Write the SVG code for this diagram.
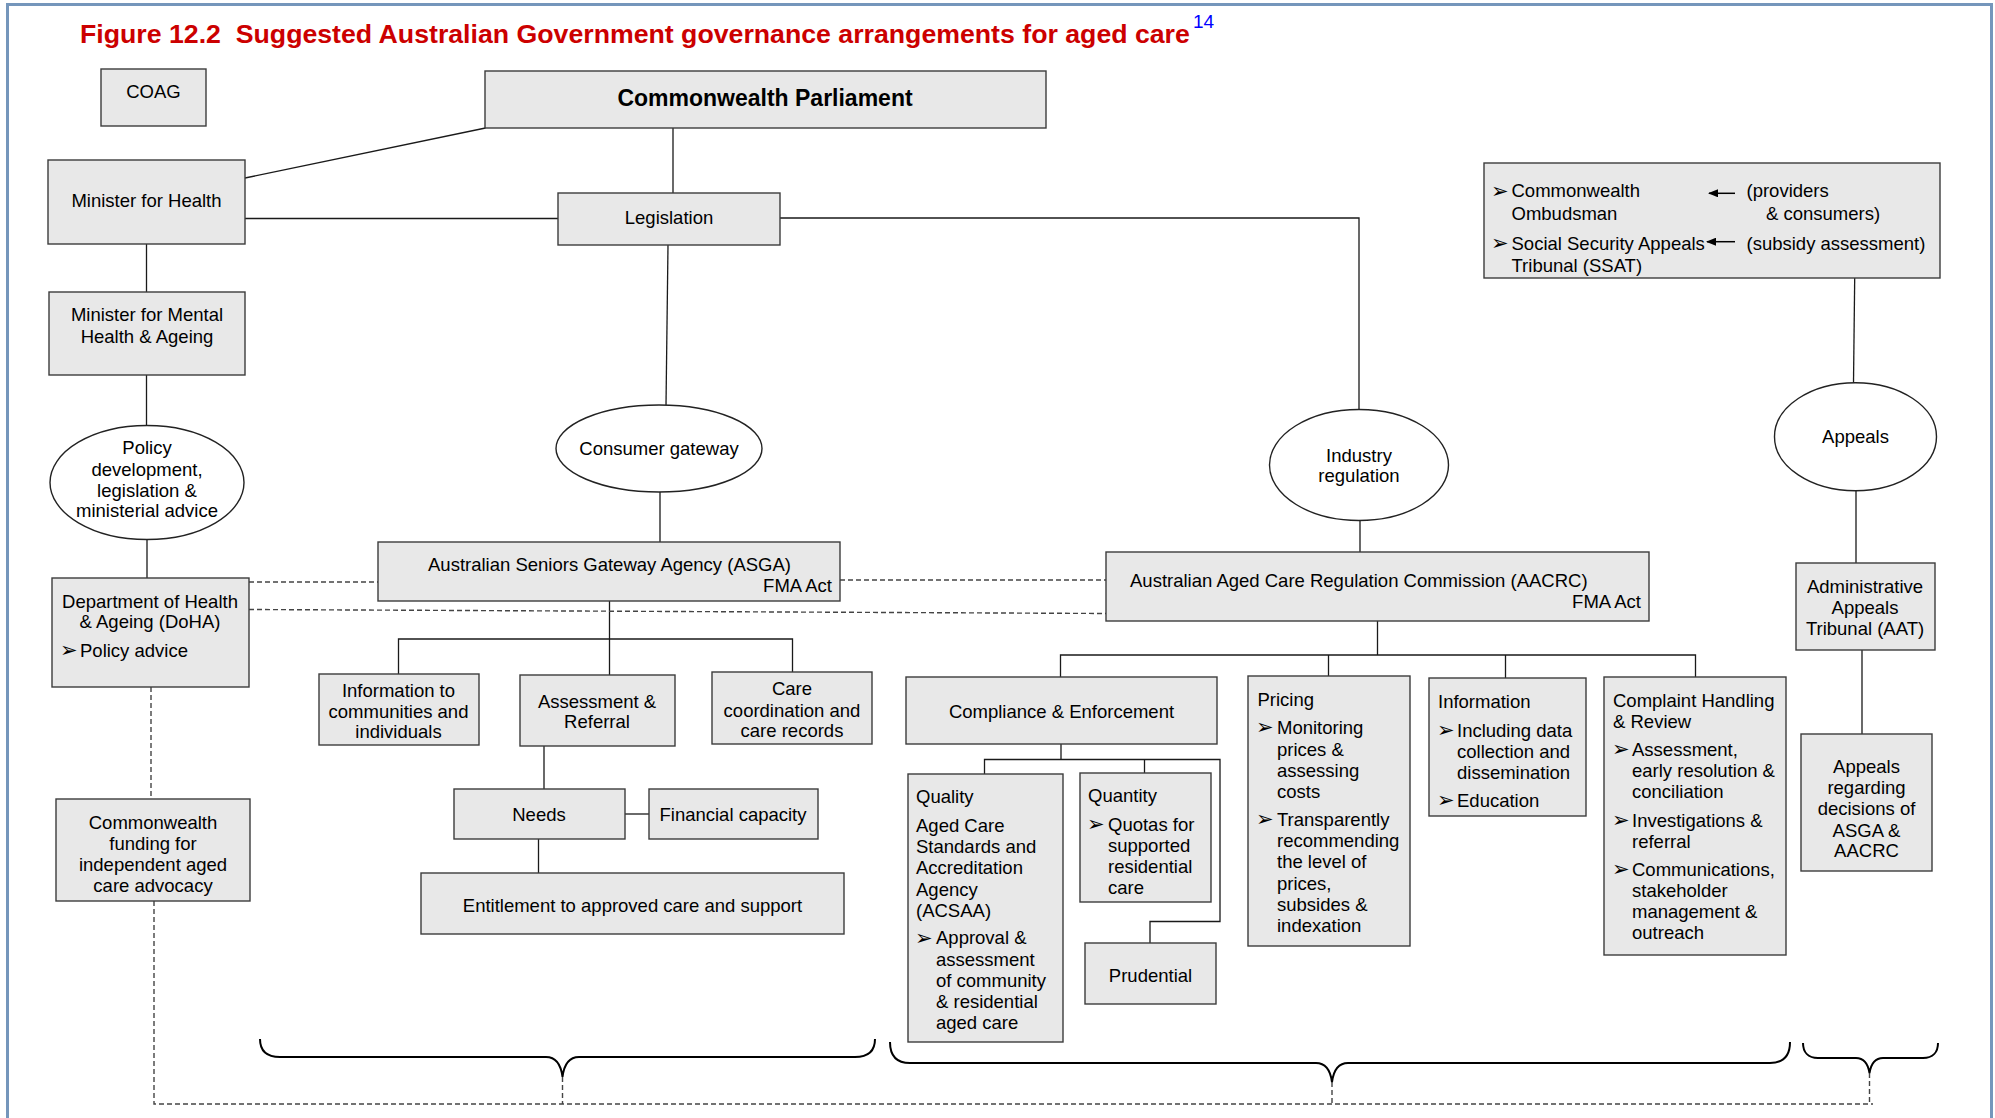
<svg xmlns="http://www.w3.org/2000/svg" width="1995" height="1118" viewBox="0 0 1995 1118">
<defs>
<style>
.bx{fill:#e8e8e8;stroke:#3c3c3c;stroke-width:1.4}
.el{fill:#ffffff;stroke:#222;stroke-width:1.4}
.t{font-family:"Liberation Sans",Arial,sans-serif;font-size:18.5px;fill:#000}
.c{text-anchor:middle}
.e{text-anchor:end}
.b{font-family:"DejaVu Sans","Liberation Sans",sans-serif;font-size:21px;fill:#000}
.ln{fill:none;stroke:#1a1a1a;stroke-width:1.3}
.ds{fill:none;stroke:#444;stroke-width:1.4;stroke-dasharray:5,3}
.br{fill:none;stroke:#000;stroke-width:2}
</style>
<marker id="ah" viewBox="0 0 10 8" refX="9" refY="4" markerWidth="10" markerHeight="8" markerUnits="userSpaceOnUse" orient="auto">
<path d="M0,0 L10,4 L0,8 Z" fill="#000"/>
</marker>
</defs>
<rect width="1995" height="1118" fill="#ffffff"/>
<rect x="7.5" y="4.5" width="1984" height="1140" fill="none" stroke="#7596bb" stroke-width="3"/>

<g id="title">
<text x="80" y="43" font-family="Liberation Sans,Arial,sans-serif" font-weight="bold" font-size="26.7" fill="#cc0000" xml:space="preserve">Figure 12.2  Suggested Australian Government governance arrangements for aged care</text>
<text x="1193" y="28" font-family="Liberation Sans,Arial,sans-serif" font-size="19" fill="#0000ff">14</text>
</g>

<g id="connectors">
<path class="ln" d="M485.5,128 L245,178"/>
<path class="ln" d="M673,128 V193"/>
<path class="ln" d="M245,218.5 H558"/>
<path class="ln" d="M780,218 H1359 V409.5"/>
<path class="ln" d="M668,245 L666,405"/>
<path class="ln" d="M146.5,244 V292"/>
<path class="ln" d="M146.5,375 V425.5"/>
<path class="ln" d="M147,539.5 V578"/>
<path class="ln" d="M660,492 V542"/>
<path class="ln" d="M609.5,601 V675"/>
<path class="ln" d="M398.5,674 V639 H792.5 V672"/>
<path class="ln" d="M544,746 V789"/>
<path class="ln" d="M625,814 H649"/>
<path class="ln" d="M538.5,839 V873"/>
<path class="ln" d="M1360,520.5 V552"/>
<path class="ln" d="M1377.5,621 V655"/>
<path class="ln" d="M1060.5,677 V655 H1695.5 V677"/>
<path class="ln" d="M1328.5,655 V676"/>
<path class="ln" d="M1505.5,655 V678"/>
<path class="ln" d="M1061,744 V759.5"/>
<path class="ln" d="M984.5,774 V759.5 H1220 V921.5 H1150 V943"/>
<path class="ln" d="M1144.5,759.5 V773"/>
<path class="ln" d="M1854.7,278 L1853.5,382.7"/>
<path class="ln" d="M1856,490.7 V563"/>
<path class="ln" d="M1862,650 V734"/>
<path class="ds" d="M249,582 H378"/>
<path class="ds" d="M840,580 H1106"/>
<path class="ds" d="M249,609.5 L1106,613.5"/>
<path class="ds" d="M151,687 V799"/>
<path class="ds" d="M154,901 V1104 H1873"/>
<path class="ds" d="M562.5,1077 V1104"/>
<path class="ds" d="M1332,1082 V1104"/>
<path class="ds" d="M1869.5,1073 V1104"/>
<path class="br" d="M260,1039 C260,1051 266,1057 280,1057 L546,1057 C556,1057 561,1065 562.5,1077 C564,1065 569,1057 579,1057 L855,1057 C869,1057 875,1051 875,1039"/>
<path class="br" d="M890,1042 C890,1056 896,1063 910,1063 L1316,1063 C1326,1063 1330.5,1071 1332,1082 C1333.5,1071 1338,1063 1348,1063 L1770,1063 C1784,1063 1790,1056 1790,1042"/>
<path class="br" d="M1803,1043 C1803,1052 1808,1058 1818,1058 L1856,1058 C1864,1058 1868,1064 1869.5,1073 C1871,1064 1875,1058 1883,1058 L1923,1058 C1933,1058 1938,1052 1938,1043"/>
</g>

<g id="coag">
<rect class="bx" x="101" y="69" width="105" height="57"/>
<text class="t c" x="153.5" y="98">COAG</text>
</g>
<g id="parliament">
<rect class="bx" x="485" y="71" width="561" height="57"/>
<text x="765" y="106" font-family="Liberation Sans,Arial,sans-serif" font-weight="bold" font-size="23" text-anchor="middle">Commonwealth Parliament</text>
</g>
<g id="minister-health">
<rect class="bx" x="48" y="160" width="197" height="84"/>
<text class="t c" x="146.5" y="207">Minister for Health</text>
</g>
<g id="legislation">
<rect class="bx" x="558" y="193" width="222" height="52"/>
<text class="t c" x="669" y="224">Legislation</text>
</g>
<g id="minister-mental">
<rect class="bx" x="49" y="292" width="196" height="83"/>
<text class="t c" x="147" y="320.5">Minister for Mental</text>
<text class="t c" x="147" y="342.5">Health &amp; Ageing</text>
</g>
<g id="policy">
<ellipse class="el" cx="147" cy="482.5" rx="97" ry="57"/>
<text class="t c" x="147" y="454">Policy</text>
<text class="t c" x="147" y="475.5">development,</text>
<text class="t c" x="147" y="496.5">legislation &amp;</text>
<text class="t c" x="147" y="517">ministerial advice</text>
</g>
<g id="doha">
<rect class="bx" x="52" y="578" width="197" height="109"/>
<text class="t c" x="150" y="607.5">Department of Health</text>
<text class="t c" x="150" y="628">&amp; Ageing (DoHA)</text>
<text class="b" x="60" y="657">➢</text>
<text class="t" x="80" y="656.5">Policy advice</text>
</g>
<g id="consumer-gateway">
<ellipse class="el" cx="659" cy="448.5" rx="103" ry="43.5"/>
<text class="t c" x="659" y="454.5">Consumer gateway</text>
</g>
<g id="asga">
<rect class="bx" x="378" y="542" width="462" height="59"/>
<text class="t c" x="609.5" y="570.5">Australian Seniors Gateway Agency (ASGA)</text>
<text class="t e" x="832" y="592">FMA Act</text>
</g>
<g id="info-communities">
<rect class="bx" x="319" y="674" width="160" height="71"/>
<text class="t c" x="398.5" y="696.5">Information to</text>
<text class="t c" x="398.5" y="717.5">communities and</text>
<text class="t c" x="398.5" y="738">individuals</text>
</g>
<g id="assessment">
<rect class="bx" x="520" y="675" width="155" height="71"/>
<text class="t c" x="597" y="707.5">Assessment &amp;</text>
<text class="t c" x="597" y="728">Referral</text>
</g>
<g id="care-coordination">
<rect class="bx" x="712" y="672" width="160" height="72"/>
<text class="t c" x="792" y="694.5">Care</text>
<text class="t c" x="792" y="716.5">coordination and</text>
<text class="t c" x="792" y="737">care records</text>
</g>
<g id="needs">
<rect class="bx" x="454" y="789" width="171" height="50"/>
<text class="t c" x="539" y="820.5">Needs</text>
</g>
<g id="financial">
<rect class="bx" x="649" y="789" width="169" height="50"/>
<text class="t c" x="733" y="820.5">Financial capacity</text>
</g>
<g id="entitlement">
<rect class="bx" x="421" y="873" width="423" height="61"/>
<text class="t c" x="632.5" y="911.5">Entitlement to approved care and support</text>
</g>
<g id="funding">
<rect class="bx" x="56" y="799" width="194" height="102"/>
<text class="t c" x="153" y="828.5">Commonwealth</text>
<text class="t c" x="153" y="849.5">funding for</text>
<text class="t c" x="153" y="870.5">independent aged</text>
<text class="t c" x="153" y="891.5">care advocacy</text>
</g>
<g id="ombudsman">
<rect class="bx" x="1484" y="163" width="456" height="115"/>
<text class="b" x="1491" y="197.5">➢</text>
<text class="t" x="1511.5" y="197">Commonwealth</text>
<text class="t" x="1511.5" y="219.5">Ombudsman</text>
<text class="b" x="1491" y="250">➢</text>
<text class="t" x="1511.5" y="249.5">Social Security Appeals</text>
<text class="t" x="1511.5" y="272">Tribunal (SSAT)</text>
<path d="M1735,193.3 H1709" stroke="#000" stroke-width="1.5" marker-end="url(#ah)"/>
<path d="M1735,241.7 H1707" stroke="#000" stroke-width="1.5" marker-end="url(#ah)"/>
<text class="t" x="1746.5" y="197">(providers</text>
<text class="t" x="1766" y="219.5">&amp; consumers)</text>
<text class="t" x="1746.5" y="249.5">(subsidy assessment)</text>
</g>
<g id="appeals">
<ellipse class="el" cx="1855.5" cy="436.7" rx="81" ry="54"/>
<text class="t c" x="1855.5" y="442.5">Appeals</text>
</g>
<g id="aat">
<rect class="bx" x="1796" y="563" width="139" height="87"/>
<text class="t c" x="1865" y="592.5">Administrative</text>
<text class="t c" x="1865" y="614">Appeals</text>
<text class="t c" x="1865" y="635">Tribunal (AAT)</text>
</g>
<g id="industry-regulation">
<ellipse class="el" cx="1359" cy="465" rx="89.5" ry="55.5"/>
<text class="t c" x="1359" y="461.5">Industry</text>
<text class="t c" x="1359" y="482">regulation</text>
</g>
<g id="aacrc">
<rect class="bx" x="1106" y="552" width="543" height="69"/>
<text class="t" x="1130" y="586.5">Australian Aged Care Regulation Commission (AACRC)</text>
<text class="t e" x="1641" y="607.5">FMA Act</text>
</g>
<g id="compliance">
<rect class="bx" x="906" y="677" width="311" height="67"/>
<text class="t c" x="1061.5" y="718">Compliance &amp; Enforcement</text>
</g>
<g id="quality">
<rect class="bx" x="908" y="774" width="155" height="268"/>
<text class="t" x="916" y="803">Quality</text>
<text class="t" x="916" y="831.5">Aged Care</text>
<text class="t" x="916" y="852.5">Standards and</text>
<text class="t" x="916" y="874">Accreditation</text>
<text class="t" x="916" y="895.5">Agency</text>
<text class="t" x="916" y="916.5">(ACSAA)</text>
<text class="b" x="915" y="944.5">➢</text>
<text class="t" x="936" y="944">Approval &amp;</text>
<text class="t" x="936" y="965.5">assessment</text>
<text class="t" x="936" y="986.5">of community</text>
<text class="t" x="936" y="1007.5">&amp; residential</text>
<text class="t" x="936" y="1029">aged care</text>
</g>
<g id="quantity">
<rect class="bx" x="1080" y="773" width="131" height="129"/>
<text class="t" x="1088" y="802">Quantity</text>
<text class="b" x="1087" y="831">➢</text>
<text class="t" x="1108" y="830.5">Quotas for</text>
<text class="t" x="1108" y="851.5">supported</text>
<text class="t" x="1108" y="872.5">residential</text>
<text class="t" x="1108" y="894">care</text>
</g>
<g id="prudential">
<rect class="bx" x="1085" y="943" width="131" height="61"/>
<text class="t c" x="1150.5" y="981.5">Prudential</text>
</g>
<g id="pricing">
<rect class="bx" x="1248" y="676" width="162" height="270"/>
<text class="t" x="1257.5" y="705.5">Pricing</text>
<text class="b" x="1256" y="734">➢</text>
<text class="t" x="1277" y="733.5">Monitoring</text>
<text class="t" x="1277" y="755.5">prices &amp;</text>
<text class="t" x="1277" y="776.5">assessing</text>
<text class="t" x="1277" y="797.5">costs</text>
<text class="b" x="1256" y="826">➢</text>
<text class="t" x="1277" y="825.5">Transparently</text>
<text class="t" x="1277" y="847">recommending</text>
<text class="t" x="1277" y="868">the level of</text>
<text class="t" x="1277" y="889.5">prices,</text>
<text class="t" x="1277" y="910.5">subsides &amp;</text>
<text class="t" x="1277" y="931.5">indexation</text>
</g>
<g id="information">
<rect class="bx" x="1429" y="678" width="157" height="138"/>
<text class="t" x="1438" y="708">Information</text>
<text class="b" x="1437" y="737">➢</text>
<text class="t" x="1457" y="736.5">Including data</text>
<text class="t" x="1457" y="757.5">collection and</text>
<text class="t" x="1457" y="778.5">dissemination</text>
<text class="b" x="1437" y="807">➢</text>
<text class="t" x="1457" y="806.5">Education</text>
</g>
<g id="complaint">
<rect class="bx" x="1604" y="677" width="182" height="278"/>
<text class="t" x="1613" y="707">Complaint Handling</text>
<text class="t" x="1613" y="727.5">&amp; Review</text>
<text class="b" x="1612" y="756">➢</text>
<text class="t" x="1632" y="755.5">Assessment,</text>
<text class="t" x="1632" y="777">early resolution &amp;</text>
<text class="t" x="1632" y="798">conciliation</text>
<text class="b" x="1612" y="827">➢</text>
<text class="t" x="1632" y="826.5">Investigations &amp;</text>
<text class="t" x="1632" y="847.5">referral</text>
<text class="b" x="1612" y="876">➢</text>
<text class="t" x="1632" y="875.5">Communications,</text>
<text class="t" x="1632" y="897">stakeholder</text>
<text class="t" x="1632" y="918">management &amp;</text>
<text class="t" x="1632" y="939">outreach</text>
</g>
<g id="appeals-regarding">
<rect class="bx" x="1801" y="734" width="131" height="137"/>
<text class="t c" x="1866.5" y="772.5">Appeals</text>
<text class="t c" x="1866.5" y="794">regarding</text>
<text class="t c" x="1866.5" y="814.5">decisions of</text>
<text class="t c" x="1866.5" y="836.5">ASGA &amp;</text>
<text class="t c" x="1866.5" y="857">AACRC</text>
</g>
</svg>
